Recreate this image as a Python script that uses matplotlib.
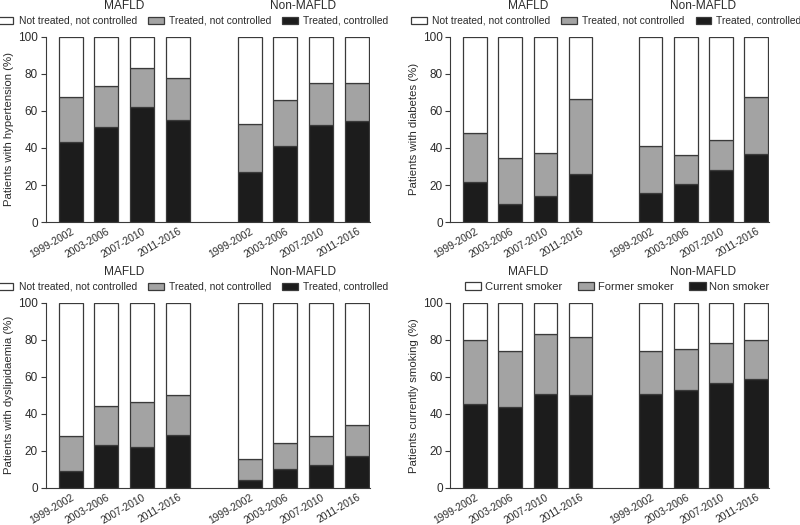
import numpy as np
import matplotlib
matplotlib.use("Agg")
import matplotlib.pyplot as plt
from matplotlib.patches import Patch

periods = ["1999-2002", "2003-2006", "2007-2010", "2011-2016"]
groups = ["MAFLD", "Non-MAFLD"]

# cumulative tops: bottom segment, then bottom+middle (MAFLD 4 then Non-MAFLD 4)
htn_low = [43.3, 51.4, 62.2, 55.0, 27.2, 41.0, 52.5, 54.7]
htn_mid = [67.4, 73.4, 82.9, 77.5, 53.1, 65.8, 74.8, 74.8]
dm_low = [21.8, 9.9, 14.2, 25.7, 15.8, 20.3, 28.1, 36.9]
dm_mid = [48.2, 34.4, 37.1, 66.5, 41.0, 36.0, 44.2, 67.6]
lip_low = [9.0, 23.0, 22.3, 28.6, 4.3, 10.1, 12.6, 17.4]
lip_mid = [28.2, 44.4, 46.2, 50.0, 15.5, 24.1, 28.2, 33.8]
smk_low = [45.5, 43.5, 50.7, 50.2, 50.5, 52.7, 56.7, 58.7]
smk_mid = [80.0, 74.0, 83.1, 81.5, 73.9, 75.0, 78.1, 80.0]

treat_labels = ["Not treated, not controlled", "Treated, not controlled", "Treated, controlled"]
smoke_labels = ["Current smoker", "Former smoker", "Non smoker"]

c_top = "white"
c_mid = "#a3a3a3"
c_low = "#1c1c1c"
edge = "#3a3a3a"
txt = "#2b2b2b"

plt.rcParams['font.family'] = ['Liberation Sans', 'DejaVu Sans']

# data, ylabel, legend labels, axes rect, legend x centre, legend fontsize, column spacing, text pad
panels = [
    (htn_low, htn_mid, "Patients with hypertension (%)", treat_labels, [0.0571, 0.577, 0.405, 0.353], 0.455, 7.4, 1.1, 0.5),
    (dm_low, dm_mid, "Patients with diabetes (%)", treat_labels, [0.563, 0.577, 0.398, 0.353], 0.49, 7.4, 1.1, 0.5),
    (lip_low, lip_mid, "Patients with dyslipidaemia (%)", treat_labels, [0.0571, 0.0705, 0.405, 0.353], 0.455, 7.4, 1.1, 0.5),
    (smk_low, smk_mid, "Patients currently smoking (%)", smoke_labels, [0.563, 0.0705, 0.398, 0.353], 0.523, 8.0, 1.4, 0.3),
]

xpos = np.array([0, 1, 2, 3, 5, 6, 7, 8])
w = 0.67

fig = plt.figure(figsize=(8, 5.25), dpi=100)

for low, mid, ylab, labels, rect, legx, legfs, colsp, tpad in panels:
    ax = fig.add_axes(rect)
    low = np.array(low)
    mid = np.array(mid)
    ax.bar(xpos, low, w, color=c_low, edgecolor=edge, linewidth=0.9)
    ax.bar(xpos, mid - low, w, bottom=low, color=c_mid, edgecolor=edge, linewidth=0.9)
    ax.bar(xpos, 100 - mid, w, bottom=mid, color=c_top, edgecolor=edge, linewidth=0.9)
    ax.set_xlim(-0.7, 8.36)
    ax.set_ylim(0, 100)
    ax.set_yticks([0, 20, 40, 60, 80, 100])
    ax.set_xticks(xpos)
    ax.set_xticklabels(periods * 2, rotation=30, ha='right', rotation_mode='anchor',
                       fontsize=7.4, color=txt)
    ax.tick_params(axis='x', length=0, pad=3)
    ax.tick_params(axis='y', length=3.5, width=0.8, labelsize=8.5, labelcolor=txt, color=edge, pad=2)
    ax.spines['top'].set_visible(False)
    ax.spines['right'].set_visible(False)
    ax.spines['left'].set_color(edge)
    ax.spines['bottom'].set_color(edge)
    ax.set_ylabel(ylab, fontsize=8.2, color=txt, labelpad=3)
    for gx, g in zip([1.5, 6.5], groups):
        ax.text(gx, 1.148, g, transform=ax.get_xaxis_transform(), ha='center', va='baseline',
                fontsize=8.6, color=txt)
    handles = [Patch(facecolor=c, edgecolor=edge, linewidth=0.9) for c in (c_top, c_mid, c_low)]
    ax.legend(handles, labels, ncol=3, loc='center', bbox_to_anchor=(legx, 1.085),
              frameon=False, fontsize=legfs, handlelength=1.5, handleheight=0.65,
              handletextpad=tpad, columnspacing=colsp, borderpad=0, borderaxespad=0,
              labelcolor=txt)

fig.savefig("out.png", dpi=100)
